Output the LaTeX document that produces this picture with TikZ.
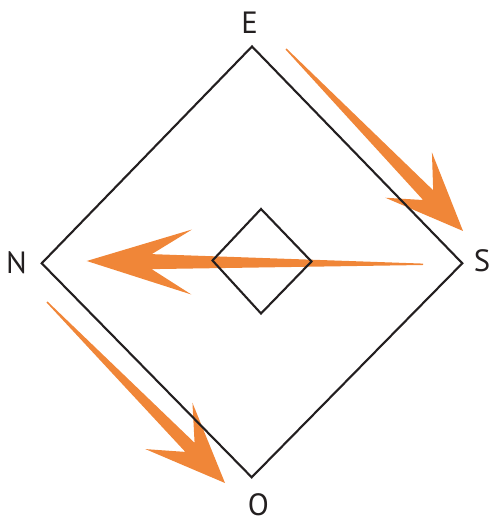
\documentclass[tikz,border=0pt]{standalone}
\usepackage{fontspec}
\setmainfont{PT Sans}
\usepackage{tikz}
\usetikzlibrary{calc}
\definecolor{DiagramInk}{RGB}{35,31,32}
\definecolor{ArrowOrange}{RGB}{240,134,56}

% tapered orange arrow: tail, tip, head length, notch depth, barb half-width, shaft half-width
\newcommand{\swoosh}[6]{%
  \coordinate (hb) at ($(#2)!#3!(#1)$);
  \coordinate (nb) at ($(#2)!#4!(#1)$);
  \fill[ArrowOrange] (#2) -- ($(hb)!#5!90:(#2)$) -- ($(nb)!#6!90:(#2)$)
    -- ($(#1)!0.4pt!90:(#2)$) -- ($(#1)!0.4pt!-90:(#2)$)
    -- ($(nb)!#6!-90:(#2)$) -- ($(hb)!#5!-90:(#2)$) -- cycle;
}

\begin{document}
\begin{tikzpicture}[line width=1.2pt, DiagramInk,
    compass/.style={font=\fontsize{17.5}{20}\selectfont, text=DiagramInk, inner sep=0pt}]
        \useasboundingbox (0,0) rectangle (10,10.52);

        % Arrows
        \coordinate (tES) at (5.72,9.54);
        \coordinate (hES) at (9.26,5.90);
        \coordinate (tSN) at (8.46,5.234);
        \coordinate (hSN) at (1.734,5.30);
        \coordinate (tNO) at (0.94,4.48);
        \coordinate (hNO) at (4.50,0.86);
        \swoosh{tES}{hES}{1.56cm}{1.0cm}{0.65cm}{0.14cm}
        \swoosh{tSN}{hSN}{2.1cm}{1.3cm}{0.65cm}{0.15cm}
        \swoosh{tNO}{hNO}{1.6cm}{1.0cm}{0.66cm}{0.13cm}

        % Outer diamond
        \coordinate (E) at (5.04,9.59);
        \coordinate (S) at (9.246,5.254);
        \coordinate (O) at (5.034,0.974);
        \coordinate (N) at (0.834,5.254);
        \draw (E) -- (S) -- (O) -- (N) -- cycle;

        % Inner diamond
        \coordinate (e) at (5.22,6.34);
        \coordinate (s) at (6.23,5.29);
        \coordinate (o) at (5.22,4.25);
        \coordinate (n) at (4.25,5.31);
        \draw (e) -- (s) -- (o) -- (n) -- cycle;

        % Labels
        \node[compass] (lE) at (4.99,10.06) {E};
        \node[compass] (lN) at (0.33,5.26) {N};
        \node[compass] (lS) at (9.64,5.31) {S};
        \node[compass] (lO) at (5.17,0.42) {O};
    \end{tikzpicture}
\end{document}
